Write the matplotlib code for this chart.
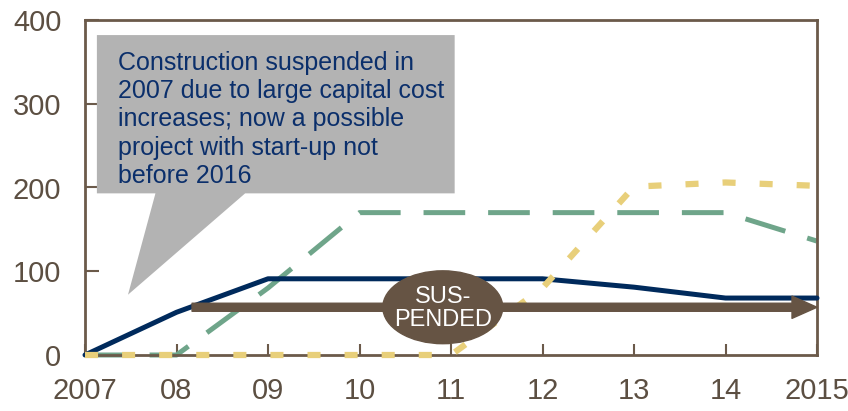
import matplotlib
matplotlib.use("Agg")
import matplotlib.pyplot as plt
from matplotlib.patches import Ellipse, Polygon

plt.rcParams['font.family'] = ['Liberation Sans', 'DejaVu Sans']
plt.rcParams['lines.scale_dashes'] = False

years = [2007, 2008, 2009, 2010, 2011, 2012, 2013, 2014, 2015]
year_labels = ['2007', '08', '09', '10', '11', '12', '13', '14', '2015']
navy_vals = [0, 51, 91, 91, 91, 91, 81, 68, 68]
green_vals = [0, 0, 80, 170, 170, 170, 170, 170, 136]
yellow_vals = [0, 0, 0, 0, 0, 80, 201, 206, 202]

note = ("Construction suspended in\n2007 due to large capital cost\n"
        "increases; now a possible\nproject with start-up not\nbefore 2016")

brown = '#665444'
axcol = '#6b5a4a'
tickcol = '#5c4f42'

fig = plt.figure(figsize=(8.48, 4.11), dpi=100)
ax = fig.add_axes([85/848, 56/411, 732/848, 335/411])

ax.plot(years, green_vals, color='#6fa58a', lw=3.6, dashes=(30, 16.5),
        solid_capstyle='butt', dash_capstyle='butt', zorder=2, clip_on=False)
ax.plot(years, navy_vals, color='#002a5c', lw=3.6, solid_capstyle='round',
        zorder=3, clip_on=False)
ax.plot(years, yellow_vals, color='#e8cf7a', lw=4.5, dashes=(9.4, 17.3),
        dash_capstyle='butt', zorder=4, clip_on=False)

# suspended arrow + label
ax.annotate('', xy=(2015, 57), xytext=(2008.17, 57),
            arrowprops=dict(arrowstyle='simple,tail_width=0.58,head_width=1.6,head_length=1.8',
                            mutation_scale=10, color=brown, shrinkA=0, shrinkB=0),
            zorder=5)
ax.add_patch(Ellipse((2010.91, 57), 1.31, 87, color=brown, zorder=6))
ax.text(2010.91, 56, 'SUS-\nPENDED', color='white', fontsize=17, ha='center',
        va='center', linespacing=1.05, zorder=7)

# callout
pts = [(2007.13, 382), (2011.04, 382), (2011.04, 193), (2008.75, 193),
       (2007.47, 72), (2007.77, 193), (2007.13, 193)]
ax.add_patch(Polygon(pts, closed=True, facecolor='#b3b3b3', edgecolor='none', zorder=8))
ax.text(2007.36, 363, note, color='#0b2f6b', fontsize=18, ha='left', va='top',
        linespacing=1.22, zorder=9)

ax.set_xlim(2007, 2015)
ax.set_ylim(0, 400)
ax.set_xticks(years)
ax.set_xticklabels(year_labels)
ax.set_yticks([0, 100, 200, 300, 400])

for s in ax.spines.values():
    s.set_color(axcol)
    s.set_linewidth(2)
ax.tick_params(axis='x', direction='in', length=8, width=1.5, color=axcol,
               labelsize=21, labelcolor=tickcol, pad=16)
ax.tick_params(axis='y', direction='in', length=10, width=1.5, color=axcol,
               labelsize=21, labelcolor=tickcol, pad=17)

fig.savefig('out.png', dpi=100)
